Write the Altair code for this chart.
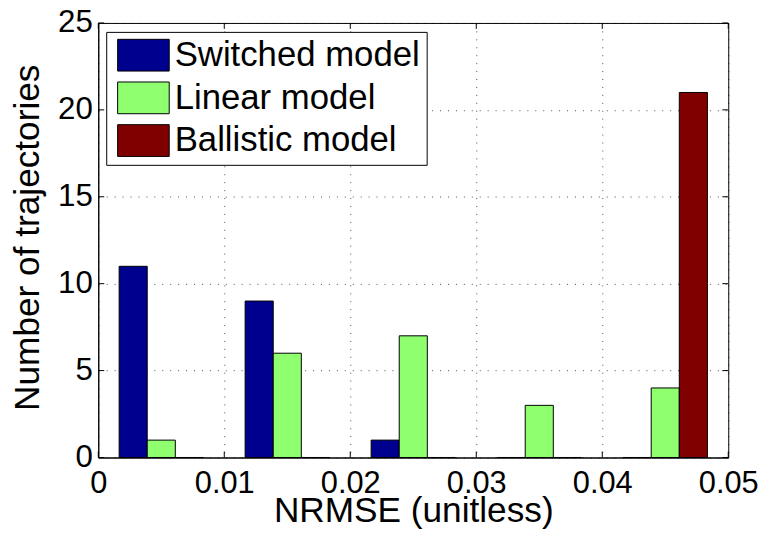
import altair as alt
import pandas as pd

# ---- data ----
bin_centers = [0.005, 0.015, 0.025, 0.035, 0.045]
series_names = ["Switched model", "Linear model", "Ballistic model"]
switched = [11, 9, 1, 0, 0]
linear = [1, 6, 7, 3, 4]
ballistic = [0, 0, 0, 0, 21]
series_colors = ["#00008F", "#8FFF70", "#800000"]
x_ticks = [0, 0.01, 0.02, 0.03, 0.04, 0.05]
y_ticks = [0, 5, 10, 15, 20, 25]

BAR_W = 0.00223
FONT = "Liberation Sans"
W, H = 635, 438

rows = []
for i, (name, vals) in enumerate(zip(series_names, [switched, linear, ballistic])):
    for c, v in zip(bin_centers, vals):
        rows.append({"center": c, "series": name, "idx": i, "count": v})
df = pd.DataFrame(rows)

xscale = alt.Scale(domain=[0, 0.05], nice=False, zero=False)
yscale = alt.Scale(domain=[0, 25], nice=False)

bars = (
    alt.Chart(df)
    .transform_calculate(
        x0=f"datum.center + (datum.idx - 1.5) * {BAR_W}",
        x1=f"datum.center + (datum.idx - 0.5) * {BAR_W}",
        base="0",
    )
    .mark_bar(stroke="black", strokeWidth=1, opacity=1)
    .encode(
        x=alt.X(
            "x0:Q",
            scale=xscale,
            axis=alt.Axis(
                values=x_ticks, format="~g", title="NRMSE (unitless)",
                labelFontSize=31, titleFontSize=35.5, labelPadding=11,
                ticks=False, tickSize=0, titleY=65, titleBaseline="alphabetic",
                labelFlush=False, labelOverlap=False,
            ),
        ),
        x2="x1:Q",
        y=alt.Y(
            "count:Q",
            scale=yscale,
            axis=alt.Axis(
                values=y_ticks, title="Number of trajectories",
                labelFontSize=31.5, titleFontSize=35.5, labelPadding=6,
                ticks=False, tickSize=0, titleX=-60, titleY=216,
                titleBaseline="alphabetic", titleAngle=-90,
                labelOverlap=False, labelFlush=False,
            ),
        ),
        y2="base:Q",
        color=alt.Color(
            "series:N",
            scale=alt.Scale(domain=series_names, range=series_colors),
            legend=alt.Legend(
                title=None, orient="none", legendX=8, legendY=9,
                fillColor="white", strokeColor="black", padding=6,
                symbolType="M-0.75,-1H2.5V1H-0.75Z", symbolSize=1024,
                symbolStrokeColor="black", symbolStrokeWidth=1, symbolOpacity=1,
                labelFontSize=35, labelFont=FONT, labelColor="black",
                labelOffset=28, rowPadding=6, labelLimit=500, zindex=1,
            ),
        ),
    )
)

ydf = pd.DataFrame({"v": y_ticks})
xdf = pd.DataFrame({"v": x_ticks})

left_ticks = alt.Chart(ydf).mark_rule(color="black").encode(
    y=alt.Y("v:Q", scale=yscale), x=alt.value(0), x2=alt.value(6))
right_ticks = alt.Chart(ydf).mark_rule(color="black").encode(
    y=alt.Y("v:Q", scale=yscale), x=alt.value(W - 6), x2=alt.value(W))
bottom_ticks = alt.Chart(xdf).mark_rule(color="black").encode(
    x=alt.X("v:Q", scale=xscale), y=alt.value(H - 6), y2=alt.value(H))
top_ticks = alt.Chart(xdf).mark_rule(color="black").encode(
    x=alt.X("v:Q", scale=xscale), y=alt.value(0), y2=alt.value(6))

chart = (
    alt.layer(bars, left_ticks, right_ticks, bottom_ticks, top_ticks)
    .properties(
        width=W, height=H,
        autosize=alt.AutoSizeParams(type="none"),
        padding={"left": 91, "top": 13, "right": 33, "bottom": 70},
    )
    .configure(font=FONT)
    .configure_view(stroke="black", strokeWidth=1)
    .configure_axis(
        labelColor="black", titleColor="black", titleFontWeight="normal",
        labelFont=FONT, titleFont=FONT, domainColor="black", domainWidth=1,
        grid=True, gridColor="black", gridOpacity=0.7, gridDash=[1, 7], gridWidth=1,
    )
)

chart.save("out.html", embed_options={"renderer": "svg", "actions": False})
